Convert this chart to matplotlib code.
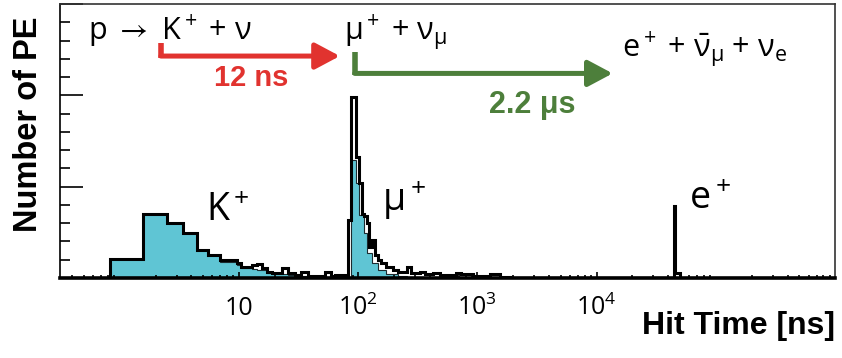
import matplotlib
matplotlib.use('Agg')
import matplotlib.pyplot as plt
from matplotlib.ticker import FixedLocator, LogLocator, MultipleLocator, NullFormatter, FixedFormatter

# hit time bin edges [ns]
edges = [0.83, 1.56, 2.48, 3.41, 4.42, 5.53, 6.93, 9.57, 10.5, 12.8, 14.1, 15.5,
         17.1, 18.8, 22.8, 25.9, 29.5, 33.5, 38.1, 52.6, 59.8, 63.8, 82.4, 88.0,
         96.9, 102, 107, 112, 118, 124, 130, 138, 147, 157, 173, 197, 216, 255,
         280, 329, 362, 425, 484, 668, 736, 920, 1270, 1540, 1870, 45000, 45600, 49700]

# measured number of PE (black line)
data_pe = [1.04, 3.53, 2.99, 2.48, 1.53, 1.26, 0.98, 0.80, 0.62, 0.71, 0.75, 0.53,
           0.35, 0.26, 0.53, 0.26, 0.16, 0.35, 0.10, 0.35, 0.10, 0.16, 3.2, 9.9,
           6.6, 5.2, 3.5, 3.4, 3.0, 1.7, 2.1, 1.26, 0.98, 0.80, 0.62, 0.44, 0.35,
           0.62, 0.25, 0.35, 0.20, 0.30, 0.15, 0.30, 0.20, 0.12, 0.22, 0.05, 0.02,
           3.93, 0.25]

# simulated number of PE (cyan fill)
mc_pe = [1.04, 3.53, 2.99, 2.48, 1.53, 1.26, 0.85, 0.70, 0.55, 0.50, 0.45, 0.42,
         0.30, 0.20, 0.20, 0.15, 0.14, 0.12, 0.10, 0.08, 0.05, 0.05, 0.0, 6.45,
         5.2, 3.44, 3.44, 2.44, 1.35, 1.35, 0.80, 0.80, 0.44, 0.44, 0.20, 0.20,
         0.10, 0.08, 0.05, 0.03, 0, 0, 0, 0, 0, 0, 0, 0, 0, 0, 0]

tick_vals = [10, 100, 1000, 10000]
tick_labels = ['10', r'$10^2$', r'$10^3$', r'$10^4$']

# arrow anchors: (start time, end time, height)
kaon_arrow = (2.22, 70.3, 12.15)
muon_arrow = (93.8, 13650, 11.2)

plt.rcParams['font.family'] = ['Open Sans', 'DejaVu Sans']
plt.rcParams['mathtext.fontset'] = 'custom'
plt.rcParams['mathtext.rm'] = 'Open Sans'
plt.rcParams['mathtext.it'] = 'Open Sans:italic'
plt.rcParams['mathtext.bf'] = 'Open Sans:bold'
plt.rcParams['mathtext.default'] = 'rm'
plt.rcParams['mathtext.fallback'] = 'stixsans'

RED = '#e1332f'
GREEN = '#4d7f3b'
CYAN = '#5fc5d4'

fig = plt.figure(figsize=(8.42, 3.58), dpi=100)
ax = fig.add_axes([60 / 842, 80 / 358, 775 / 842, 274 / 358])

ax.stairs(mc_pe, edges, fill=True, color=CYAN, zorder=1)
ax.stairs(mc_pe, edges, color='#1b2b30', lw=0.8, zorder=2)
ax.stairs(data_pe, edges, color='black', lw=2.2, zorder=3)

ax.set_xscale('log')
ax.set_xlim(10 ** -0.5, 1e6)
ax.set_ylim(0, 15)

ax.xaxis.set_major_locator(FixedLocator(tick_vals))
ax.xaxis.set_major_formatter(FixedFormatter(tick_labels))
ax.xaxis.set_minor_locator(LogLocator(base=10, subs=range(2, 10), numticks=20))
ax.xaxis.set_minor_formatter(NullFormatter())
ax.yaxis.set_major_locator(MultipleLocator(5))
ax.yaxis.set_minor_locator(MultipleLocator(1))

ax.tick_params(axis='x', which='both', direction='in', top=False, labelsize=18,
               pad=26.5, width=1.2)
ax.tick_params(axis='x', which='major', length=4.5)
ax.tick_params(axis='x', which='minor', length=2.5)
ax.tick_params(axis='y', which='both', direction='in', right=False,
               labelleft=False, width=1.2)
ax.tick_params(axis='y', which='major', length=16.5)
ax.tick_params(axis='y', which='minor', length=7)
for lbl in ax.get_xticklabels():
    lbl.set_va('baseline')

for side in ['top', 'right']:
    ax.spines[side].set_color('#333333')
    ax.spines[side].set_linewidth(1.2)
ax.spines['left'].set_linewidth(1.2)
ax.spines['bottom'].set_linewidth(2.6)

ax.set_xlabel('Hit Time [ns]', family='Liberation Sans', weight='bold', fontsize=23,
              loc='right', va='baseline')
ax.xaxis.set_label_coords(1.0, -0.2026)
ax.set_ylabel('Number of PE', family='Liberation Sans', weight='bold', fontsize=23.5,
              va='center')
ax.yaxis.set_label_coords(-0.041, 0.56)

# decay chain
ax.text(0.036, 0.869, r'p $\rightarrow$ K$^+$ + ν', transform=ax.transAxes,
        fontsize=22, va='baseline')
ax.text(0.366, 0.869, r'μ$^+$ + ν$_μ$', transform=ax.transAxes, fontsize=22,
        va='baseline')
ax.text(0.725, 0.807, r'e$^+$ + $\bar{ν}_μ$ + ν$_e$', transform=ax.transAxes,
        fontsize=22, va='baseline')

# arrows with lifetimes
x0, x1, y = kaon_arrow
ax.plot([x0, x0], [12.03, 12.88], color=RED, lw=4, solid_capstyle='butt')
ax.annotate('', xy=(x1, y), xytext=(x0, y),
            arrowprops=dict(arrowstyle='-|>,head_length=0.6,head_width=0.32',
                            mutation_scale=25, lw=3.6, color=RED,
                            shrinkA=0, shrinkB=0))
ax.text(0.2465, 0.73, '12 ns', transform=ax.transAxes, color=RED, fontsize=21,
        family='Liberation Sans', weight='bold', ha='center', va='center')

x0, x1, y = muon_arrow
ax.plot([x0, x0], [11.13, 12.39], color=GREEN, lw=4, solid_capstyle='butt')
ax.annotate('', xy=(x1, y), xytext=(x0, y),
            arrowprops=dict(arrowstyle='-|>,head_length=0.6,head_width=0.32',
                            mutation_scale=25, lw=3.6, color=GREEN,
                            shrinkA=0, shrinkB=0))
ax.text(0.609, 0.631, '2.2 μs', transform=ax.transAxes, color=GREEN, fontsize=22,
        family='Liberation Sans', weight='bold', ha='center', va='center')

# particle labels
ax.text(0.2168, 0.2445, r'K$^+$', transform=ax.transAxes, fontsize=27,
        ha='center', va='center')
ax.text(0.4439, 0.2847, r'μ$^+$', transform=ax.transAxes, fontsize=27,
        ha='center', va='center')
ax.text(0.8387, 0.288, r'e$^+$', transform=ax.transAxes, fontsize=27,
        ha='center', va='center')

fig.savefig('out.png', dpi=100)
